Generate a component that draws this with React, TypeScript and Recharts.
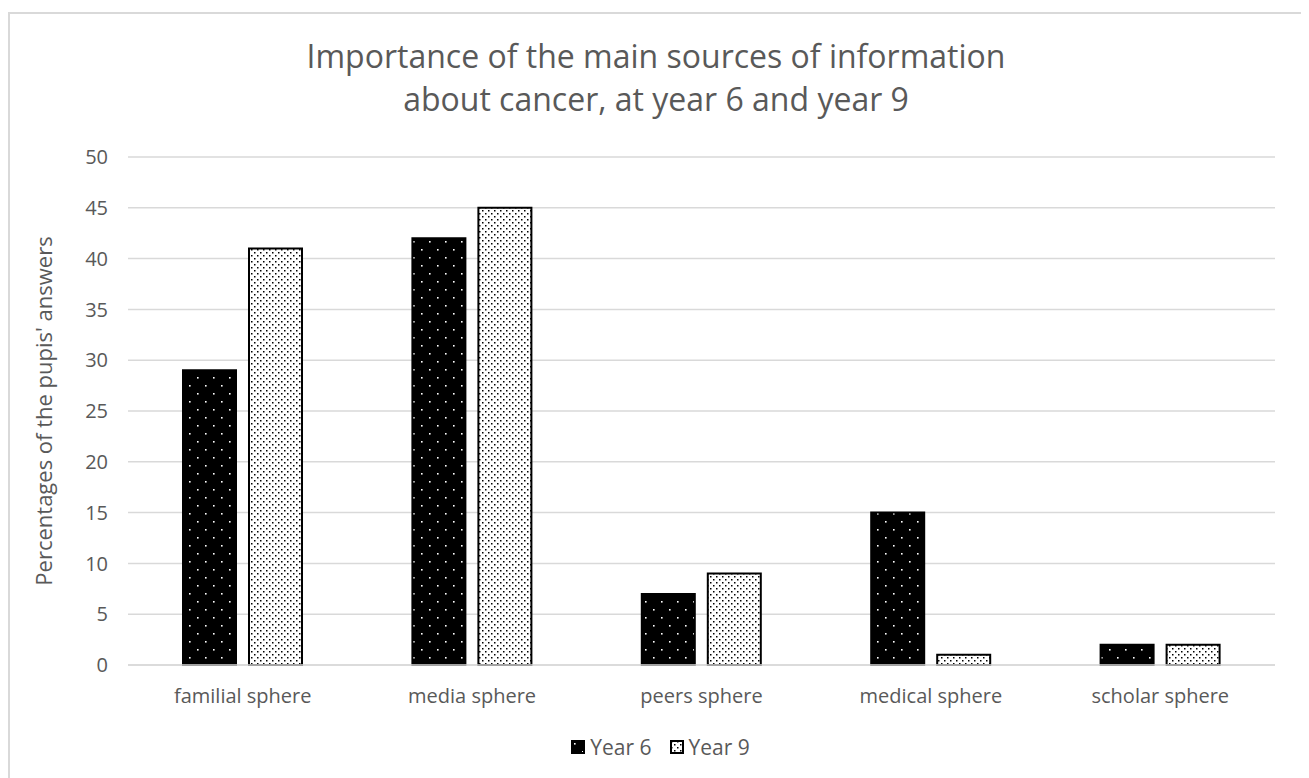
import { BarChart, Bar, XAxis, YAxis, CartesianGrid, Legend } from 'recharts'

const categories = ['familial sphere', 'media sphere', 'peers sphere', 'medical sphere', 'scholar sphere']
const year6 = [29, 42, 7, 15, 2]
const year9 = [41, 45, 9, 1, 2]
const yTicks = [0, 5, 10, 15, 20, 25, 30, 35, 40, 45, 50]

const data = categories.map((name, i) => ({ name, y6: year6[i], y9: year9[i] }))

const C = { text: '#595959', grid: '#D9D9D9' }
const FONT = '"Open Sans", sans-serif'

function Patterns() {
  return (
    <defs>
      <pattern id="p6" width="16" height="16" patternUnits="userSpaceOnUse">
        <rect width="16" height="16" fill="#000" />
        <rect x="3" y="3" width="1.6" height="1.6" fill="#fff" />
        <rect x="11" y="11" width="1.6" height="1.6" fill="#fff" />
      </pattern>
      <pattern id="p9" width="6" height="6" patternUnits="userSpaceOnUse">
        <rect width="6" height="6" fill="#fff" />
        <rect x="1" y="1" width="1.5" height="1.5" fill="#000" />
        <rect x="4" y="4" width="1.5" height="1.5" fill="#000" />
      </pattern>
    </defs>
  )
}

function LegendBox() {
  const item = (id: string, label: string) => (
    <span style={{ display: 'inline-flex', alignItems: 'center', margin: '0 9px' }}>
      <svg width={14} height={14} style={{ marginRight: 5 }}>
        <rect x={1} y={1} width={12} height={12} fill={`url(#${id})`} stroke="#000" strokeWidth={2} />
      </svg>
      {label}
    </span>
  )
  return (
    <div style={{
      textAlign: 'center', fontFamily: FONT, fontSize: 21, color: C.text,
      lineHeight: '26px', paddingLeft: 36,
    }}>
      {item('p6', 'Year 6')}
      {item('p9', 'Year 9')}
    </div>
  )
}

export default function App() {
  return (
    <div style={{
      position: 'relative', width: 1292, height: 766, marginTop: 4,
      border: `2px solid ${C.grid}`, background: '#fff', fontFamily: FONT,
    }}>
      <div style={{
        position: 'absolute', top: 20, left: 0, width: '100%', textAlign: 'center',
        fontSize: 32, lineHeight: '43px', color: C.text,
      }}>
        Importance of the main sources of information<br />about cancer, at year 6 and year 9
      </div>
      <BarChart width={1292} height={766} data={data}
        margin={{ top: 143, right: 27, bottom: 20, left: 0 }}
        barCategoryGap="24%" barGap={13}>
        <Patterns />
        <CartesianGrid vertical={false} stroke={C.grid} strokeWidth={1.5} />
        <XAxis dataKey="name" tickLine={false} axisLine={{ stroke: C.grid, strokeWidth: 1.5 }}
          tick={{ fill: C.text, fontSize: 20, fontFamily: FONT }} tickMargin={18} height={68} />
        <YAxis domain={[0, 50]} ticks={yTicks} width={118} tickLine={false} axisLine={false}
          tick={{ fill: C.text, fontSize: 20, fontFamily: FONT }} tickMargin={14}
          label={{ value: "Percentages of the pupis' answers", angle: -90, position: 'insideLeft',
            offset: 34, style: { fill: C.text, fontSize: 22, fontFamily: FONT, textAnchor: 'middle' } }} />
        <Legend verticalAlign="bottom" content={<LegendBox />} />
        <Bar dataKey="y6" name="Year 6" fill="url(#p6)" stroke="#000" strokeWidth={2} barSize={53}
          isAnimationActive={false} />
        <Bar dataKey="y9" name="Year 9" fill="url(#p9)" stroke="#000" strokeWidth={2} barSize={53}
          isAnimationActive={false} />
      </BarChart>
    </div>
  )
}
